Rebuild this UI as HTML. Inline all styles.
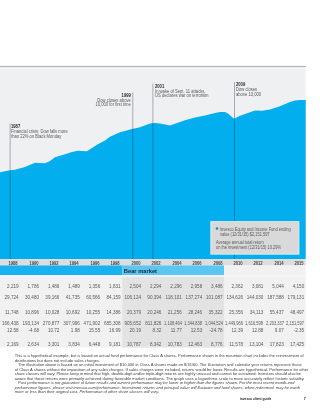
<!DOCTYPE html>
<html><head><meta charset="utf-8"><style>
html,body{margin:0;padding:0;background:#fff;width:320px;height:414px;overflow:hidden;position:relative;font-family:"Liberation Sans",sans-serif;}
#w{position:absolute;left:0;top:0;width:320px;height:414px;will-change:transform;}
.a{position:absolute;white-space:nowrap;line-height:1;}
.ann{font-size:4.6px;color:#5a5a5a;transform:scaleX(0.9);transform-origin:0 0;}
.ann b{color:#2a2a2a;}
.yr{font-size:4.6px;font-weight:bold;color:#484848;transform:scaleX(0.9);text-align:center;width:20px;}
.num{font-size:4.6px;color:#5a5a5a;text-align:right;width:30px;}
.p{font-size:4.03px;color:#404040;}
</style></head><body><div id="w">

<svg class="a" style="left:0;top:0" width="320" height="414" viewBox="0 0 320 414">
<rect x="0" y="66" width="305.7" height="193" fill="#EFF0F2"/>
<rect x="0" y="67" width="305.7" height="2.5" fill="#F3F4F5"/>
<rect x="0" y="65.9" width="305.7" height="1.2" fill="#B4B4B4"/>
<polygon points="0,172.2 10,170.3 15,169.8 25,167.0 35,162.8 45,163.3 50,161.0 55,157.2 65,154.3 72,152.0 78,150.8 87,151.3 97,144.7 105,140.5 110,136.8 120,132.3 132,129.1 140,127.2 150,123.5 155,122.9 160,123.5 170,125.5 175,123.8 185,120.2 195,117.6 205,115.5 215,113 220,112 225,112.1 228,113.6 234,118.8 240,115.8 250,112.2 255,110.6 262,110.8 270,109.5 280,106.3 290,102 295,100.6 300,100 305.7,100 305.7,259 0,259" fill="#02AEED"/>
<rect x="9.7" y="123.5" width="0.8" height="135.5" fill="rgba(10,35,60,0.42)"/>
<rect x="132.4" y="92.5" width="0.8" height="166.5" fill="rgba(10,35,60,0.42)"/>
<rect x="152.5" y="83.6" width="0.8" height="175.6" fill="rgba(10,35,60,0.42)"/>
<rect x="234.1" y="82" width="0.8" height="177" fill="rgba(10,35,60,0.42)"/>
<rect x="210.8" y="221.6" width="88.2" height="32.6" fill="#D9D9D9" stroke="#E9EEF1" stroke-width="0.8"/>
<circle cx="217" cy="228.5" r="1.3" fill="#0A8FC8"/>
<rect x="0" y="259" width="305.7" height="6.5" fill="#DDDDDE"/>
<rect x="0" y="265.4" width="122.3" height="10" fill="#1AB2EE"/>
<rect x="122.3" y="265.4" width="101.8" height="10" fill="#5BC7F0"/>
<rect x="0" y="275.4" width="305.7" height="72.1" fill="#F1F1F2"/>
<rect x="224.1" y="265.4" width="81.6" height="10.2" fill="#F1F1F2"/>
<rect x="122.3" y="275.4" width="101.8" height="72.1" fill="#E3E3E4"/>
<rect x="0" y="275.4" width="305.7" height="1.3" fill="#F9F7F8"/>
</svg>

<div class="a ann" style="left:11.20px;top:124.90px;line-height:4.75px"><b>1987</b></div>
<div class="a ann" style="left:11.20px;top:129.80px;line-height:4.75px">Financial crisis: Dow falls more<br>than 22% on Black Monday</div>
<div class="a ann" style="left:60.00px;width:70.8px;text-align:right;transform-origin:100% 0;top:94.00px;line-height:4.4px"><b>1999</b></div>
<div class="a ann" style="left:60.00px;width:70.8px;text-align:right;transform-origin:100% 0;top:99.00px;line-height:4.4px">Dow closes above<br>10,000 for first time</div>
<div class="a ann" style="left:154.50px;top:84.80px;line-height:4.4px"><b>2001</b></div>
<div class="a ann" style="left:154.50px;top:89.80px;line-height:4.4px">In wake of Sept. 11 attacks,<br>US declares war on terrorism</div>
<div class="a ann" style="left:236.00px;top:83.20px;line-height:4.4px"><b>2009</b></div>
<div class="a ann" style="left:236.00px;top:88.20px;line-height:4.4px">Dow closes<br>above 10,000</div>
<div class="a ann" style="left:220.3px;top:226.8px;line-height:5.0px;font-size:4.5px;transform:scaleX(0.88)">Invesco Equity and Income Fund ending<br>value (12/31/15) $2,151,597</div>
<div class="a ann" style="left:216px;top:240.3px;line-height:5.0px;font-size:4.5px;transform:scaleX(0.88)">Average annual total return<br>on the investment (12/31/15) 10.29%</div>
<div class="a yr" style="left:3.20px;top:261.9px">1988</div>
<div class="a yr" style="left:23.63px;top:261.9px">1990</div>
<div class="a yr" style="left:44.06px;top:261.9px">1992</div>
<div class="a yr" style="left:64.49px;top:261.9px">1994</div>
<div class="a yr" style="left:84.92px;top:261.9px">1996</div>
<div class="a yr" style="left:105.35px;top:261.9px">1998</div>
<div class="a yr" style="left:125.78px;top:261.9px">2000</div>
<div class="a yr" style="left:146.21px;top:261.9px">2002</div>
<div class="a yr" style="left:166.64px;top:261.9px">2004</div>
<div class="a yr" style="left:187.07px;top:261.9px">2006</div>
<div class="a yr" style="left:207.50px;top:261.9px">2008</div>
<div class="a yr" style="left:227.93px;top:261.9px">2010</div>
<div class="a yr" style="left:248.36px;top:261.9px">2012</div>
<div class="a yr" style="left:268.79px;top:261.9px">2014</div>
<div class="a yr" style="left:289.10px;top:261.9px">2015</div>
<div class="a" style="left:123.8px;top:268.8px;font-size:5.75px;font-weight:bold;color:#1d2833">Bear market</div>
<div class="a num" style="left:-11.40px;top:284.60px">2,219</div>
<div class="a num" style="left:9.00px;top:284.60px">1,786</div>
<div class="a num" style="left:29.40px;top:284.60px">1,486</div>
<div class="a num" style="left:49.80px;top:284.60px">1,489</div>
<div class="a num" style="left:70.20px;top:284.60px">1,356</div>
<div class="a num" style="left:90.60px;top:284.60px">1,831</div>
<div class="a num" style="left:111.00px;top:284.60px">2,504</div>
<div class="a num" style="left:131.40px;top:284.60px">2,294</div>
<div class="a num" style="left:151.80px;top:284.60px">2,296</div>
<div class="a num" style="left:172.20px;top:284.60px">2,958</div>
<div class="a num" style="left:192.60px;top:284.60px">3,486</div>
<div class="a num" style="left:213.00px;top:284.60px">2,362</div>
<div class="a num" style="left:233.40px;top:284.60px">3,081</div>
<div class="a num" style="left:253.80px;top:284.60px">5,044</div>
<div class="a num" style="left:274.20px;top:284.60px">4,150</div>
<div class="a num" style="left:-11.40px;top:295.60px">29,724</div>
<div class="a num" style="left:9.00px;top:295.60px">30,480</div>
<div class="a num" style="left:29.40px;top:295.60px">39,166</div>
<div class="a num" style="left:49.80px;top:295.60px">41,735</div>
<div class="a num" style="left:70.20px;top:295.60px">60,566</div>
<div class="a num" style="left:90.60px;top:295.60px">84,159</div>
<div class="a num" style="left:111.00px;top:295.60px">106,124</div>
<div class="a num" style="left:131.40px;top:295.60px">90,394</div>
<div class="a num" style="left:151.80px;top:295.60px">118,101</div>
<div class="a num" style="left:172.20px;top:295.60px">137,274</div>
<div class="a num" style="left:192.60px;top:295.60px">101,087</div>
<div class="a num" style="left:213.00px;top:295.60px">134,626</div>
<div class="a num" style="left:233.40px;top:295.60px">144,030</div>
<div class="a num" style="left:253.80px;top:295.60px">187,588</div>
<div class="a num" style="left:274.20px;top:295.60px">179,131</div>
<div class="a num" style="left:-11.40px;top:311.20px">11,748</div>
<div class="a num" style="left:9.00px;top:311.20px">10,896</div>
<div class="a num" style="left:29.40px;top:311.20px">10,028</div>
<div class="a num" style="left:49.80px;top:311.20px">10,692</div>
<div class="a num" style="left:70.20px;top:311.20px">10,255</div>
<div class="a num" style="left:90.60px;top:311.20px">14,386</div>
<div class="a num" style="left:111.00px;top:311.20px">20,379</div>
<div class="a num" style="left:131.40px;top:311.20px">20,246</div>
<div class="a num" style="left:151.80px;top:311.20px">21,256</div>
<div class="a num" style="left:172.20px;top:311.20px">28,246</div>
<div class="a num" style="left:192.60px;top:311.20px">35,322</div>
<div class="a num" style="left:213.00px;top:311.20px">25,356</div>
<div class="a num" style="left:233.40px;top:311.20px">34,113</div>
<div class="a num" style="left:253.80px;top:311.20px">55,437</div>
<div class="a num" style="left:274.20px;top:311.20px">48,497</div>
<div class="a num" style="left:-11.40px;top:322.40px">166,438</div>
<div class="a num" style="left:9.00px;top:322.40px">193,134</div>
<div class="a num" style="left:29.40px;top:322.40px">270,877</div>
<div class="a num" style="left:49.80px;top:322.40px">307,996</div>
<div class="a num" style="left:70.20px;top:322.40px">471,902</div>
<div class="a num" style="left:90.60px;top:322.40px">685,308</div>
<div class="a num" style="left:111.00px;top:322.40px">905,652</div>
<div class="a num" style="left:131.40px;top:322.40px">811,826</div>
<div class="a num" style="left:151.80px;top:322.40px;transform:scaleX(0.88);transform-origin:100% 50%">1,108,464</div>
<div class="a num" style="left:172.20px;top:322.40px;transform:scaleX(0.88);transform-origin:100% 50%">1,344,838</div>
<div class="a num" style="left:192.60px;top:322.40px;transform:scaleX(0.88);transform-origin:100% 50%">1,044,524</div>
<div class="a num" style="left:213.00px;top:322.40px;transform:scaleX(0.88);transform-origin:100% 50%">1,449,966</div>
<div class="a num" style="left:233.40px;top:322.40px;transform:scaleX(0.88);transform-origin:100% 50%">1,616,598</div>
<div class="a num" style="left:253.80px;top:322.40px;transform:scaleX(0.88);transform-origin:100% 50%">2,203,337</div>
<div class="a num" style="left:274.20px;top:322.40px;transform:scaleX(0.88);transform-origin:100% 50%">2,151,597</div>
<div class="a num" style="left:-11.40px;top:328.60px">12.58</div>
<div class="a num" style="left:9.00px;top:328.60px">-4.68</div>
<div class="a num" style="left:29.40px;top:328.60px">10.72</div>
<div class="a num" style="left:49.80px;top:328.60px">1.98</div>
<div class="a num" style="left:70.20px;top:328.60px">15.55</div>
<div class="a num" style="left:90.60px;top:328.60px">16.99</div>
<div class="a num" style="left:111.00px;top:328.60px">20.19</div>
<div class="a num" style="left:131.40px;top:328.60px">8.32</div>
<div class="a num" style="left:151.80px;top:328.60px">11.77</div>
<div class="a num" style="left:172.20px;top:328.60px">12.53</div>
<div class="a num" style="left:192.60px;top:328.60px">-24.78</div>
<div class="a num" style="left:213.00px;top:328.60px">12.39</div>
<div class="a num" style="left:233.40px;top:328.60px">12.88</div>
<div class="a num" style="left:253.80px;top:328.60px">9.07</div>
<div class="a num" style="left:274.20px;top:328.60px">-2.35</div>
<div class="a num" style="left:-11.40px;top:342.90px">2,169</div>
<div class="a num" style="left:9.00px;top:342.90px">2,634</div>
<div class="a num" style="left:29.40px;top:342.90px">3,301</div>
<div class="a num" style="left:49.80px;top:342.90px">3,834</div>
<div class="a num" style="left:70.20px;top:342.90px">6,448</div>
<div class="a num" style="left:90.60px;top:342.90px">9,181</div>
<div class="a num" style="left:111.00px;top:342.90px">10,787</div>
<div class="a num" style="left:131.40px;top:342.90px">8,342</div>
<div class="a num" style="left:151.80px;top:342.90px">10,783</div>
<div class="a num" style="left:172.20px;top:342.90px">12,463</div>
<div class="a num" style="left:192.60px;top:342.90px">8,776</div>
<div class="a num" style="left:213.00px;top:342.90px">11,578</div>
<div class="a num" style="left:233.40px;top:342.90px">13,104</div>
<div class="a num" style="left:253.80px;top:342.90px">17,823</div>
<div class="a num" style="left:274.20px;top:342.90px">17,425</div>
<div class="a p" style="left:14.7px;top:354.10px">This is a hypothetical example, but is based on actual fund performance for Class A shares. Performance shown in the mountain chart includes the reinvestment of</div>
<div class="a p" style="left:14.7px;top:358.60px">distributions but does not include sales charges.</div>
<div class="a p" style="left:14.7px;top:363.10px">&nbsp;&nbsp;&nbsp;The illustration above is based on an initial investment of $10,000 in Class A shares made on 8/31/60. The illustration and calendar year returns represent those</div>
<div class="a p" style="left:14.7px;top:367.60px">of Class A shares without the imposition of any sales charges. If sales charges were included, returns would be lower. Results are hypothetical. Performance for other</div>
<div class="a p" style="left:14.7px;top:372.10px">share classes will vary. Please keep in mind that high, double-digit and/or triple-digit returns are highly unusual and cannot be sustained. Investors should also be</div>
<div class="a p" style="left:14.7px;top:376.60px">aware that these returns were primarily achieved during favorable market conditions. The graph uses a logarithmic scale to more accurately reflect historic volatility.</div>
<div class="a p" style="left:14.7px;top:381.10px"><i>&nbsp;&nbsp;&nbsp;Past performance is not guarantee of future results and current performance may be lower or higher than the figures shown. For the most recent month-end</i></div>
<div class="a p" style="left:14.7px;top:385.60px"><i>performance figures, please visit invesco.com/performance. Investment returns and principal value will fluctuate and fund shares, when redeemed, may be worth</i></div>
<div class="a p" style="left:14.7px;top:390.10px"><i>more or less than their original cost. Performance of other share classes will vary.</i></div>
<div class="a" style="left:239.8px;top:398.0px;font-size:3.3px;font-weight:bold;color:#222">invesco client guide</div>
<div class="a" style="left:303.8px;top:397.8px;font-size:3.6px;font-weight:bold;color:#222">7</div>
</div></body></html>
